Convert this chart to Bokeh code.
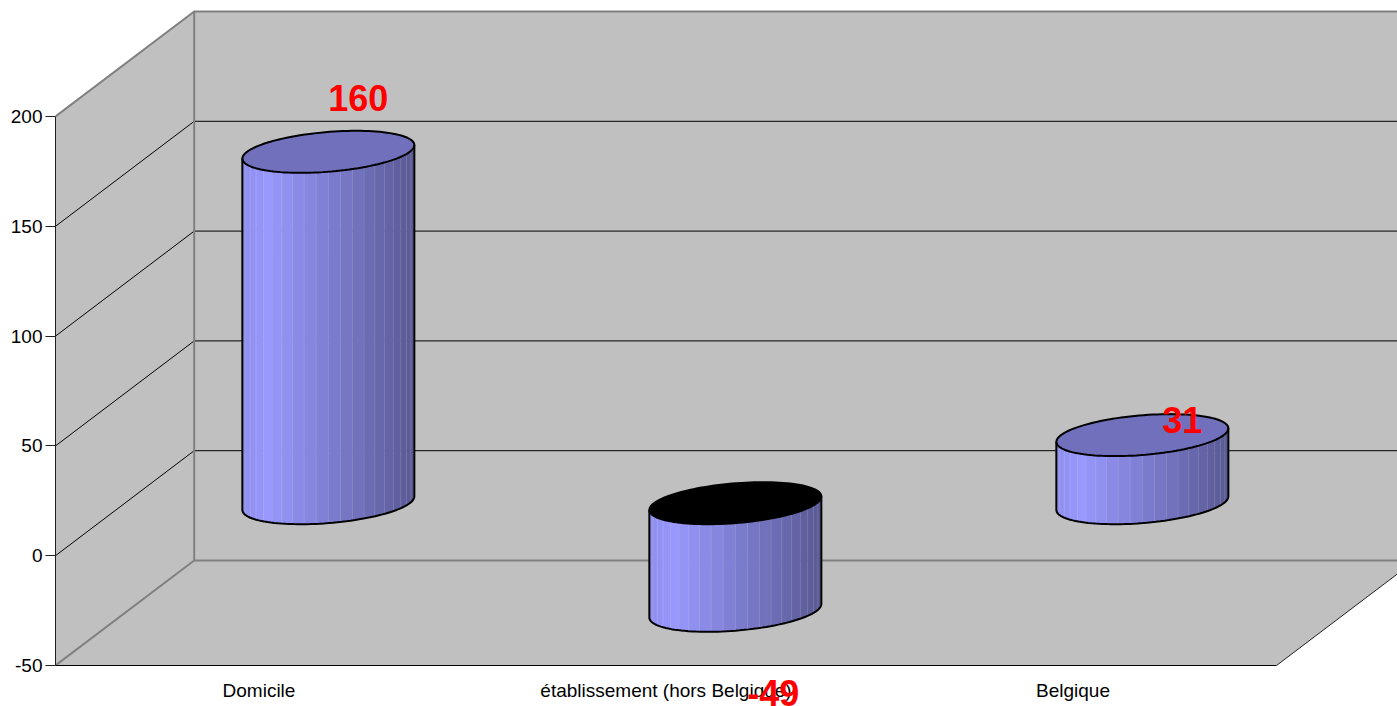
import numpy as np
from bokeh.plotting import figure
from bokeh.models import LinearAxis, FixedTicker, Label
from bokeh.embed import file_html
from bokeh.resources import INLINE

# ---- data
categories = ["Domicile", "établissement (hors Belgique)", "Belgique"]
values = [160, -49, 31]
value_labels = ["160", "-49", "31"]
y_ticks = [-50, 0, 50, 100, 150, 200]
label_dx = [30, 38, 40]
label_dy = [54, -82, 15]

# ---- scales (page pixels per unit) and the oblique depth projection
PX_CAT, PX_VAL = 407.0, 2.196
DX, DY = 138.7 / PX_CAT, 105.0 / PX_VAL
VMIN, VMAX = y_ticks[0], y_ticks[-1]
NCAT = len(categories)
R_X, R_Z = 0.2, 0.2
FONT = "Liberation Sans"


def proj(c, v, z):
    return c + np.asarray(z) * DX, v + np.asarray(z) * DY


p = figure(width=1397, height=706, output_backend="svg", toolbar_location=None,
           x_range=(0, 1342 / PX_CAT), y_range=(VMIN - 41 / PX_VAL, VMIN + 657 / PX_VAL),
           x_axis_type=None, y_axis_type=None,
           min_border_left=55, min_border_right=0, min_border_top=8, min_border_bottom=0)
p.outline_line_color = None
p.grid.visible = False
p.background_fill_color = "white"
p.border_fill_color = "white"

WALL = "#c0c0c0"
EDGE = "#808080"

# walls and floor
bx, by = zip(proj(0, VMIN, 1), proj(NCAT + 1, VMIN, 1), proj(NCAT + 1, VMAX, 1), proj(0, VMAX, 1))
p.patch(list(bx), list(by), fill_color=WALL, line_color=None)
lx, ly = zip(proj(0, VMIN, 0), proj(0, VMIN, 1), proj(0, VMAX, 1), proj(0, VMAX, 0))
p.patch(list(lx), list(ly), fill_color=WALL, line_color=None)
fx, fy = zip(proj(0, VMIN, 0), proj(NCAT, VMIN, 0), proj(NCAT, VMIN, 1), proj(0, VMIN, 1))
p.patch(list(fx), list(fy), fill_color=WALL, line_color=None)

# gridlines
for v in y_ticks[1:-1]:
    gx, gy = zip(proj(0, v, 0), proj(0, v, 1), proj(NCAT + 1, v, 1))
    p.line(list(gx), list(gy), line_color="#000000", line_width=1)

# wall edges
for v in (VMIN, VMAX):
    ex, ey = zip(proj(0, v, 0), proj(0, v, 1), proj(NCAT + 1, v, 1))
    p.line(list(ex), list(ey), line_color=EDGE, line_width=2)
ex, ey = zip(proj(0, VMIN, 1), proj(0, VMAX, 1))
p.line(list(ex), list(ey), line_color=EDGE, line_width=2)
ex, ey = zip(proj(NCAT, VMIN, 0), proj(NCAT, VMIN, 1))
p.line(list(ex), list(ey), line_color="#202020", line_width=1)


def ring(c, v, t):
    return proj(c + R_X * np.cos(t), v, 0.5 + R_Z * np.sin(t))


def facet_colour(f):
    peak = 0.14
    if f < peak:
        b = 0.93 + 0.07 * f / peak
    else:
        b = 1.0 - 0.42 * (f - peak) / (1 - peak)
    return "#%02x%02x%02x" % (int(153 * b), int(153 * b), int(255 * b))


t0 = np.arctan2(DX * R_Z, R_X)
N = 22
for i, v in enumerate(values):
    c = i + 0.5
    hi, lo = max(v, 0), min(v, 0)
    ts = np.linspace(t0 + np.pi, t0 + 2 * np.pi, N + 1)
    xs, ys, colours, sx, sy = [], [], [], [], []
    for k in range(N):
        tt = np.linspace(ts[k], ts[k + 1], 5)
        ux, uy = ring(c, hi, tt)
        dx, dy = ring(c, lo, tt)
        xs.append(list(ux) + list(dx[::-1]))
        ys.append(list(uy) + list(dy[::-1]))
        mid = (np.cos(ts[k] + (ts[k + 1] - ts[k]) / 2 - t0 - np.pi) * -1 + 1) / 2
        colours.append(facet_colour(mid))
        if k > 1:
            sx.append([ux[0], dx[0]])
            sy.append([uy[0], dy[0]])
    p.patches(xs, ys, fill_color=colours, line_color=colours, line_width=0.5)
    p.multi_line(sx, sy, line_color="#ffffff", line_alpha=0.12, line_width=1)

    # cap
    full = np.linspace(0, 2 * np.pi, 121)
    tx, ty = ring(c, hi, full)
    p.patch(list(tx), list(ty), fill_color="#7070bc" if v >= 0 else "#000000",
            line_color="black", line_width=2)

    # silhouette
    arc = np.linspace(t0 + np.pi, t0 + 2 * np.pi, 61)
    ax, ay = ring(c, lo, arc)
    ux, uy = ring(c, hi, arc)
    p.line([ux[0]] + list(ax) + [ux[-1]], [uy[0]] + list(ay) + [uy[-1]],
           line_color="black", line_width=2)

# axes
yaxis = LinearAxis(ticker=FixedTicker(ticks=y_ticks), bounds=(VMIN, VMAX))
yaxis.major_label_overrides = {t: str(t) for t in y_ticks}
yaxis.major_tick_out = 10
yaxis.major_tick_in = 0
yaxis.minor_tick_line_color = None
yaxis.major_label_standoff = 3
yaxis.major_label_text_font = FONT
yaxis.major_label_text_font_size = "19px"
yaxis.major_label_text_color = "black"
yaxis.axis_line_color = "#202020"
yaxis.major_tick_line_color = "#202020"
p.add_layout(yaxis, "left")

xaxis = LinearAxis(ticker=FixedTicker(ticks=[i + 0.5 for i in range(NCAT)]), bounds=(0, NCAT),
                   fixed_location=VMIN)
xaxis.major_label_overrides = {i + 0.5: name for i, name in enumerate(categories)}
xaxis.major_tick_line_color = None
xaxis.minor_tick_line_color = None
xaxis.major_tick_out = 0
xaxis.major_tick_in = 0
xaxis.major_label_standoff = 14
xaxis.major_label_text_font = FONT
xaxis.major_label_text_font_size = "19px"
xaxis.major_label_text_color = "black"
xaxis.axis_line_color = "black"
p.add_layout(xaxis, "below")

# data labels
for i, v in enumerate(values):
    p.add_layout(Label(x=i + 0.5 + 0.5 * DX, y=v + 0.5 * DY, text=value_labels[i],
                       x_offset=label_dx[i], y_offset=label_dy[i], level="overlay",
                       text_color="#ff0000", text_font=FONT, text_font_size="36px",
                       text_font_style="bold", text_align="center", text_baseline="middle"))

with open("out.html", "w") as f:
    f.write(file_html(p, INLINE))
